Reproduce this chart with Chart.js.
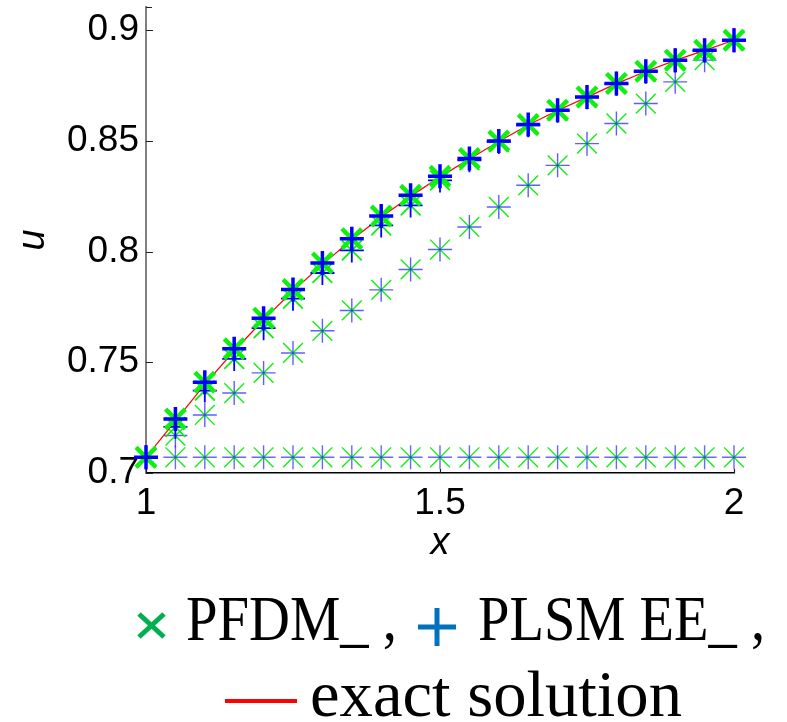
<!DOCTYPE html>
<html>
<head>
<meta charset="utf-8">
<script src="https://cdn.jsdelivr.net/npm/chart.js@4.4.0/dist/chart.umd.min.js"></script>
<style>
  html, body { margin: 0; padding: 0; background: #fff; }
  #wrap { position: relative; width: 787px; height: 722px; overflow: hidden; }
  #chart { position: absolute; left: 0; top: 0; }
  #legend { position: absolute; left: 0; top: 0; pointer-events: none; }
</style>
</head>
<body>
<div id="wrap">
  <canvas id="chart" width="787" height="580"></canvas>
  <svg id="legend" width="787" height="722" xmlns="http://www.w3.org/2000/svg"></svg>
</div>
<script>
// grid points
const xs = [1, 1.05, 1.1, 1.15, 1.2, 1.25, 1.3, 1.35, 1.4, 1.45, 1.5,
            1.55, 1.6, 1.65, 1.7, 1.75, 1.8, 1.85, 1.9, 1.95, 2];

// iterations (same values for both methods)
const iter0 = [0.7071, 0.7071, 0.7071, 0.7071, 0.7071, 0.7071, 0.7071, 0.7071, 0.7071, 0.7071, 0.7071,
               0.7071, 0.7071, 0.7071, 0.7071, 0.7071, 0.7071, 0.7071, 0.7071, 0.7071, 0.7071];
const iter1 = [0.7071, 0.7169, 0.7262, 0.7361, 0.7452, 0.7542, 0.7642, 0.7734, 0.7827, 0.7919, 0.8009,
               0.8111, 0.8201, 0.8299, 0.8389, 0.8487, 0.8578, 0.8668, 0.8766, 0.8864, 0.8954];
const iter2 = [0.7071, 0.7208, 0.7372, 0.7515, 0.7654, 0.7787, 0.7903, 0.8005, 0.8118, 0.8208, 0.8321,
               0.8412, 0.8495, 0.8570, 0.8636, 0.8696, 0.8757, 0.8812, 0.8862, 0.8907, 0.8954];
const iter3 = [0.7071, 0.7244, 0.7410, 0.7561, 0.7699, 0.7829, 0.7948, 0.8058, 0.8160, 0.8254, 0.8340,
               0.8420, 0.8499, 0.8573, 0.8638, 0.8698, 0.8759, 0.8814, 0.8864, 0.8909, 0.8954];
const exact = [0.7071, 0.7235, 0.7400, 0.7552, 0.7692, 0.7822, 0.7942, 0.8053, 0.8156, 0.8250, 0.8337,
               0.8418, 0.8497, 0.8571, 0.8637, 0.8697, 0.8758, 0.8813, 0.8863, 0.8908, 0.8954];

const xTicks = [1, 1.5, 2];
const xTickLabels = ['1', '1.5', '2'];
const yTicks = [0.7, 0.75, 0.8, 0.85, 0.9];
const yTickLabels = ['0.7', '0.75', '0.8', '0.85', '0.9'];

const labels = ['PFDM_ ,', 'PLSM EE_ ,', 'exact solution'];

const pts = arr => xs.map((x, i) => ({ x: x, y: arr[i] }));

function markers(arr, style, color, r, w, order) {
  return {
    data: pts(arr), showLine: false, clip: false, order: order,
    pointStyle: style, pointRadius: r, pointHoverRadius: r,
    pointBorderColor: color, pointBackgroundColor: color, pointBorderWidth: w
  };
}

const green = '#10f010';
const blue = '#0000ff';

const datasets = [
  markers(iter3, 'cross', blue, 12, 3.5, 0),
  markers(iter3, 'crossRot', green, 14, 4.5, 1),
  markers(iter2, 'cross', blue, 12, 1.8, 2),
  markers(iter2, 'crossRot', green, 14, 1.8, 3),
  {
    data: pts(exact), showLine: true, clip: false, order: 4,
    borderColor: '#ff0000', borderWidth: 1.2, pointRadius: 0, tension: 0
  },
  markers(iter1, 'cross', 'rgba(40,40,255,0.75)', 12, 1.4, 5),
  markers(iter1, 'crossRot', green, 14, 1.4, 6),
  markers(iter0, 'cross', 'rgba(40,40,255,0.7)', 12, 1.4, 7),
  markers(iter0, 'crossRot', green, 14, 1.4, 8)
];

// small inward tick marks
const innerTicks = {
  id: 'innerTicks',
  afterDraw(chart) {
    const ctx = chart.ctx, xs_ = chart.scales.x, ys_ = chart.scales.y;
    const a = chart.chartArea;
    ctx.save();
    ctx.strokeStyle = '#222';
    ctx.lineWidth = 1.2;
    ctx.beginPath();
    yTicks.forEach(v => {
      const py = Math.round(ys_.getPixelForValue(v)) + 0.5;
      ctx.moveTo(a.left, py); ctx.lineTo(a.left + 7, py);
    });
    ctx.moveTo(a.left, a.top + 0.5); ctx.lineTo(a.left + 6, a.top + 0.5);
    xTicks.forEach(v => {
      const px = Math.round(xs_.getPixelForValue(v)) + 0.5;
      ctx.moveTo(px, a.bottom); ctx.lineTo(px, a.bottom - 4);
    });
    ctx.stroke();
    ctx.restore();
  }
};

const tickFont = { family: '"Liberation Sans", Arial, sans-serif', size: 37 };
const titleFont = { family: '"Liberation Sans", Arial, sans-serif', size: 38, style: 'italic' };

new Chart(document.getElementById('chart'), {
  type: 'scatter',
  data: { datasets: datasets },
  options: {
    responsive: false,
    animation: false,
    layout: { autoPadding: false, padding: { left: 0, right: 53, top: 7, bottom: 0 } },
    plugins: { legend: { display: false }, tooltip: { enabled: false } },
    scales: {
      x: {
        type: 'linear', min: 1, max: 2,
        grid: { display: false, drawTicks: false },
        border: { display: true, color: '#000', width: 1.5 },
        ticks: {
          font: tickFont, color: '#000', padding: 9, maxRotation: 0,
          callback: v => xTickLabels[xTicks.indexOf(v)]
        },
        afterBuildTicks: s => { s.ticks = xTicks.map(v => ({ value: v })); },
        afterFit: s => { s.height = 107; s.paddingLeft = 0; s.paddingRight = 0; },
        title: { display: true, text: 'x', font: titleFont, color: '#000', padding: { top: 0, bottom: 14 } }
      },
      y: {
        type: 'linear', min: 0.7, max: 0.9104,
        grid: { display: false, drawTicks: false },
        border: { display: true, color: '#808080', width: 2 },
        ticks: {
          font: tickFont, color: '#000', padding: 7,
          callback: v => yTickLabels[yTicks.indexOf(v)]
        },
        afterBuildTicks: s => { s.ticks = yTicks.map(v => ({ value: v })); },
        afterFit: s => { s.width = 146; s.paddingTop = 0; s.paddingBottom = 0; },
        title: { display: true, text: 'u', font: titleFont, color: '#000', padding: { top: 11, bottom: 0 } }
      }
    }
  },
  plugins: [innerTicks]
});

// legend below the plot
const svg = document.getElementById('legend');
const NS = 'http://www.w3.org/2000/svg';
function line(x1, y1, x2, y2, color, w) {
  const l = document.createElementNS(NS, 'line');
  l.setAttribute('x1', x1); l.setAttribute('y1', y1);
  l.setAttribute('x2', x2); l.setAttribute('y2', y2);
  l.setAttribute('stroke', color); l.setAttribute('stroke-width', w);
  svg.appendChild(l);
}
function text(str, x, y, size, width) {
  const t = document.createElementNS(NS, 'text');
  t.setAttribute('x', x); t.setAttribute('y', y);
  t.setAttribute('font-family', '"Liberation Serif", "Times New Roman", serif');
  t.setAttribute('font-size', size);
  t.setAttribute('fill', '#000');
  t.setAttribute('textLength', width);
  t.setAttribute('lengthAdjust', 'spacingAndGlyphs');
  t.textContent = str;
  svg.appendChild(t);
}
line(139, 614, 164, 637, '#00b050', 5);
line(164, 614, 139, 637, '#00b050', 5);
text(labels[0], 186, 640, 63, 211);
line(418, 627, 456, 627, '#0070c0', 5);
line(437, 608, 437, 646, '#0070c0', 5);
text(labels[1], 478, 640, 63, 287);
line(225, 701, 297, 701, '#ff0000', 4);
text(labels[2], 310, 716, 65, 372);
</script>
</body>
</html>
